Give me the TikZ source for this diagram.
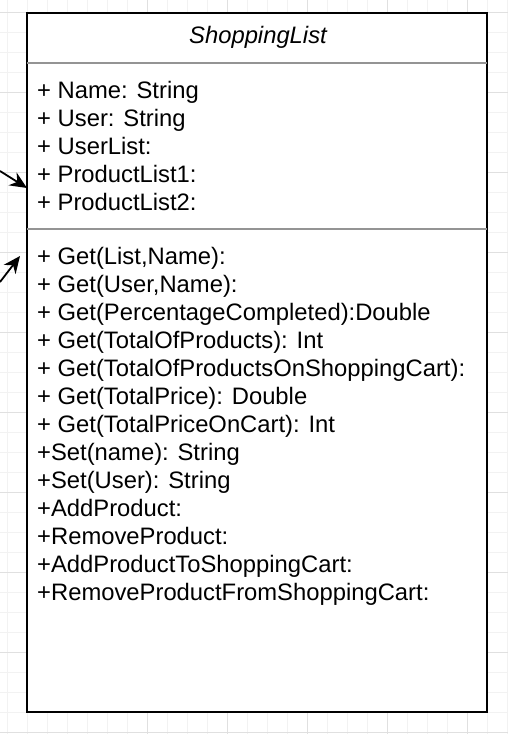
\documentclass[tikz,border=0pt]{standalone}
\usepackage{fontspec}
\setmainfont{Liberation Sans}
\usetikzlibrary{arrows.meta}

\begin{document}
\begin{tikzpicture}[
        x=1pt, y=-1pt,
        gridminor/.style={draw=black!5, line width=1pt},
        gridmajor/.style={draw=black!12, line width=1pt},
        classbox/.style={draw=black, line width=2pt, fill=white,
            minimum width=460pt, minimum height=699pt, inner sep=0pt, outer sep=0pt},
        divider/.style={draw=black!42, line width=1.5pt},
        classname/.style={font=\itshape\fontsize{23.8}{28}\selectfont},
        member/.style={anchor=base west, inner sep=0pt, font=\fontsize{23.8}{28}\selectfont},
        assoc/.style={-{Stealth[length=17pt,width=15pt]}, line width=1.8pt}]

    % canvas
    \useasboundingbox (0,0) rectangle (508,734);
    \fill[white] (0,0) rectangle (508,734);
    \foreach \gx in {7,27,...,507} \draw[gridminor] (\gx,0) -- (\gx,734);
    \foreach \gy in {12,32,...,732} \draw[gridminor] (0,\gy) -- (508,\gy);
    \foreach \gx in {147,227,...,507} \draw[gridmajor] (\gx,0) -- (\gx,734);
    \foreach \gy in {12,92,...,732} \draw[gridmajor] (0,\gy) -- (508,\gy);

    % class
    \node[classbox] (box) at (257,362.5) {};
    \node[classname] (title) at (258,37) {ShoppingList};
    \draw[divider] ([yshift=-50pt]box.north west) -- ([yshift=-50pt]box.north east);
    \draw[divider] ([yshift=-216pt]box.north west) -- ([yshift=-216pt]box.north east);

    % attributes
    \foreach \txt [count=\i from 0] in {{+ Name: String}, {+ User: String}, {+ UserList:},
            {+ ProductList1:}, {+ ProductList2:}}
        \node[member] (attr\i) at (37,98.5+28*\i) {\txt};

    % methods
    \foreach \txt [count=\i from 0] in {{+ Get(List,Name):}, {+ Get(User,Name):},
            {+ Get(PercentageCompleted):Double}, {+ Get(TotalOfProducts): Int},
            {+ Get(TotalOfProductsOnShoppingCart):}, {+ Get(TotalPrice): Double},
            {+ Get(TotalPriceOnCart): Int}, {+Set(name): String}, {+Set(User): String},
            {+AddProduct:}, {+RemoveProduct:}, {+AddProductToShoppingCart:},
            {+RemoveProductFromShoppingCart:}}
        \node[member] (meth\i) at (37,264.5+28*\i) {\txt};

    % incoming associations
    \coordinate (src1) at (0,171);
    \coordinate (src2) at (0,282);
    \draw[assoc] (src1) -- ([yshift=-175pt]box.north west);
    \draw[assoc] (src2) -- ([xshift=-7pt,yshift=-243pt]box.north west);
\end{tikzpicture}
\end{document}
